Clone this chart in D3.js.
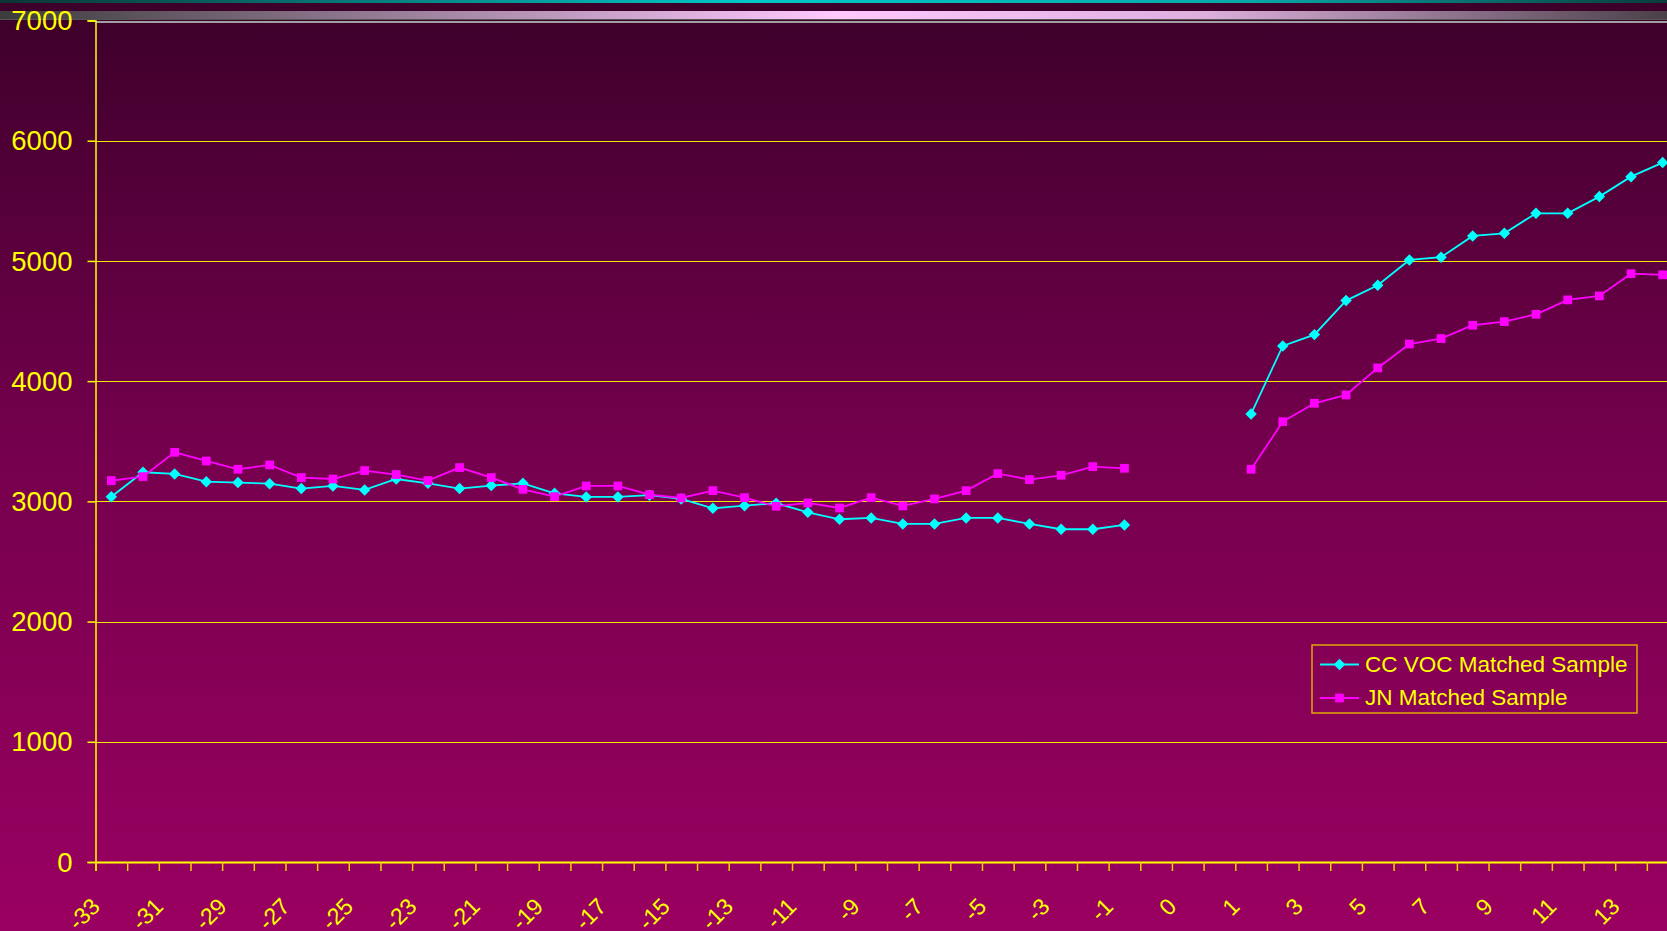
<!DOCTYPE html>
<html>
<head>
<meta charset="utf-8">
<script src="https://cdn.jsdelivr.net/npm/d3@7"></script>
<style>
  body { margin: 0; background: #3d0029; overflow: hidden; }
  text { font-family: "Liberation Sans", Arial, sans-serif; }
</style>
</head>
<body>
<svg width="1667" height="931"></svg>
<script>
// category labels along the bottom (two unlabelled slots around 0)
var tickLabels = ["-33","-32","-31","-30","-29","-28","-27","-26","-25","-24","-23","-22","-21","-20","-19","-18","-17",
  "-16","-15","-14","-13","-12","-11","-10","-9","-8","-7","-6","-5","-4","-3","-2","-1",
  "","0","",
  "1","2","3","4","5","6","7","8","9","10","11","12","13","14"];

var ccVoc = [3039,3242,3228,3164,3156,3147,3106,3128,3095,3186,3150,3106,3131,3150,3067,3037,3037,
  3051,3020,2942,2964,2984,2909,2851,2862,2812,2812,2862,2862,2812,2768,2768,2804,
  null,null,null,
  3727,4293,4387,4670,4798,5008,5031,5208,5230,5396,5396,5535,5701,5818];

var jn = [3173,3206,3408,3336,3267,3303,3198,3186,3256,3223,3173,3281,3198,3100,3039,3128,3128,
  3056,3028,3089,3031,2959,2987,2945,3031,2962,3020,3089,3231,3181,3217,3289,3275,
  null,null,null,
  3267,3663,3816,3885,4110,4309,4354,4465,4495,4556,4676,4709,4894,4884];

var yTicks = [0,1000,2000,3000,4000,5000,6000,7000];
var seriesNames = ["CC VOC Matched Sample", "JN Matched Sample"];

var svg = d3.select("svg");
var width = +svg.attr("width"),
    height = +svg.attr("height");

var plotLeft = 95.5, plotTop = 20.5, plotBottom = 862,
    band = 31.66,
    plotRight = plotLeft + tickLabels.length * band;

var defs = svg.append("defs");

var bg = defs.append("linearGradient").attr("id", "bg")
    .attr("x1", 0).attr("y1", 0).attr("x2", 0).attr("y2", 1);
bg.append("stop").attr("offset", 0).attr("stop-color", "#3c002a");
bg.append("stop").attr("offset", 0.5).attr("stop-color", "#76004e");
bg.append("stop").attr("offset", 1).attr("stop-color", "#9a0061");

var teal = defs.append("linearGradient").attr("id", "teal");
teal.append("stop").attr("offset", 0).attr("stop-color", "#0c3434");
teal.append("stop").attr("offset", 0.45).attr("stop-color", "#00c8c8");
teal.append("stop").attr("offset", 0.75).attr("stop-color", "#08a8a8");
teal.append("stop").attr("offset", 1).attr("stop-color", "#0a3c3c");

var pink = defs.append("linearGradient").attr("id", "pink");
pink.append("stop").attr("offset", 0).attr("stop-color", "#3c3c3c");
pink.append("stop").attr("offset", 0.5).attr("stop-color", "#ffc8ff");
pink.append("stop").attr("offset", 0.72).attr("stop-color", "#deb0de");
pink.append("stop").attr("offset", 1).attr("stop-color", "#4a4048");

svg.append("rect").attr("width", width).attr("height", height).attr("fill", "url(#bg)");
svg.append("rect").attr("y", 0).attr("width", width).attr("height", 3).attr("fill", "url(#teal)");
svg.append("rect").attr("y", 11).attr("width", width).attr("height", 8).attr("fill", "url(#pink)");
svg.append("rect").attr("y", 19).attr("width", width).attr("height", 1).attr("fill", "#555");

var x = d3.scaleBand()
    .domain(d3.range(tickLabels.length))
    .range([plotLeft, plotRight]);

var xEdge = d3.scaleLinear()
    .domain([0, tickLabels.length])
    .range([plotLeft, plotRight]);

var y = d3.scaleLinear()
    .domain([0, 7000])
    .range([plotBottom, plotTop]);

// gridlines
svg.append("g")
    .attr("shape-rendering", "crispEdges")
    .selectAll("line")
    .data(yTicks.slice(1))
  .enter().append("line")
    .attr("x1", plotLeft).attr("x2", plotRight)
    .attr("y1", function(d) { return Math.round(y(d)) + 0.5; })
    .attr("y2", function(d) { return Math.round(y(d)) + 0.5; })
    .attr("stroke", function(d) { return d == 7000 ? "#a0a0a0" : "#f0e800"; })
    .attr("stroke-width", function(d) { return d == 7000 ? 2 : 1; });

// y axis
var yAxis = svg.append("g")
    .attr("transform", "translate(" + plotLeft + ",0)")
    .call(d3.axisLeft(y).tickValues(yTicks).tickSize(8).tickPadding(15).tickFormat(d3.format("d")));
yAxis.select(".domain").attr("stroke", "#ffff00").attr("stroke-width", 1.5);
yAxis.selectAll(".tick line").attr("stroke", "#ffff00").attr("stroke-width", 1.5);
yAxis.selectAll(".tick text")
    .attr("fill", "#ffff00")
    .style("font-size", "27.5px")
    .style("font-family", "Liberation Sans, Arial, sans-serif")
    .attr("dy", "0.33em");

// x axis: ticks on the band edges, labels on every other category
var xTicks = svg.append("g")
    .attr("transform", "translate(0," + plotBottom + ")")
    .call(d3.axisBottom(xEdge).tickValues(d3.range(tickLabels.length + 1)).tickSize(9).tickFormat(""));
xTicks.select(".domain").attr("stroke", "#ffff00").attr("stroke-width", 2);
xTicks.selectAll(".tick line").attr("stroke", "#f0d000").attr("stroke-width", 1.5);

var xLabels = svg.append("g")
    .attr("transform", "translate(0," + plotBottom + ")")
    .call(d3.axisBottom(x).tickSize(0)
      .tickFormat(function(i) { return i % 2 == 0 ? tickLabels[i] : ""; }));
xLabels.select(".domain").remove();
xLabels.selectAll(".tick text")
    .attr("fill", "#ffff00")
    .style("font-size", "23px")
    .style("font-family", "Liberation Sans, Arial, sans-serif")
    .attr("text-anchor", "end")
    .attr("y", 0).attr("dy", 0)
    .attr("transform", "translate(-10,46) rotate(-45)");

// series
var line = d3.line()
    .defined(function(d) { return d != null; })
    .x(function(d, i) { return x(i) + x.bandwidth() / 2; })
    .y(function(d) { return y(d); });

var series = [
  {name: seriesNames[0], values: ccVoc, color: "#00ffff", shape: d3.symbolSquare, size: 66, rot: 45},
  {name: seriesNames[1], values: jn, color: "#ff00ff", shape: d3.symbolSquare, size: 76, rot: 0}
];

series.forEach(function(s) {
  svg.append("path")
      .datum(s.values)
      .attr("fill", "none")
      .attr("stroke", s.color)
      .attr("stroke-width", 1.8)
      .attr("d", line);

  svg.append("g")
    .selectAll("path")
    .data(s.values.map(function(v, i) { return {v: v, i: i}; }).filter(function(d) { return d.v != null; }))
  .enter().append("path")
    .attr("d", d3.symbol().type(s.shape).size(s.size))
    .attr("fill", s.color)
    .attr("transform", function(d) {
      return "translate(" + (x(d.i) + x.bandwidth() / 2) + "," + y(d.v) + ") rotate(" + s.rot + ")";
    });
});

// legend
var legend = svg.append("g").attr("transform", "translate(1312,645)");
legend.append("rect")
    .attr("width", 325).attr("height", 68)
    .attr("fill", "none")
    .attr("stroke", "#e0a800")
    .attr("stroke-width", 1.5);

var item = legend.selectAll(".item")
    .data(series)
  .enter().append("g")
    .attr("class", "item")
    .attr("transform", function(d, i) { return "translate(0," + (19.5 + i * 33.5) + ")"; });

item.append("line")
    .attr("x1", 8).attr("x2", 47)
    .attr("stroke", function(d) { return d.color; })
    .attr("stroke-width", 1.8);
item.append("path")
    .attr("d", function(d) { return d3.symbol().type(d.shape).size(d.size)(); })
    .attr("fill", function(d) { return d.color; })
    .attr("transform", function(d) { return "translate(27.5,0) rotate(" + d.rot + ")"; });
item.append("text")
    .attr("x", 53)
    .attr("y", 7)
    .attr("fill", "#ffff00")
    .style("font-size", "22.5px")
    .text(function(d) { return d.name; });
</script>
</body>
</html>
